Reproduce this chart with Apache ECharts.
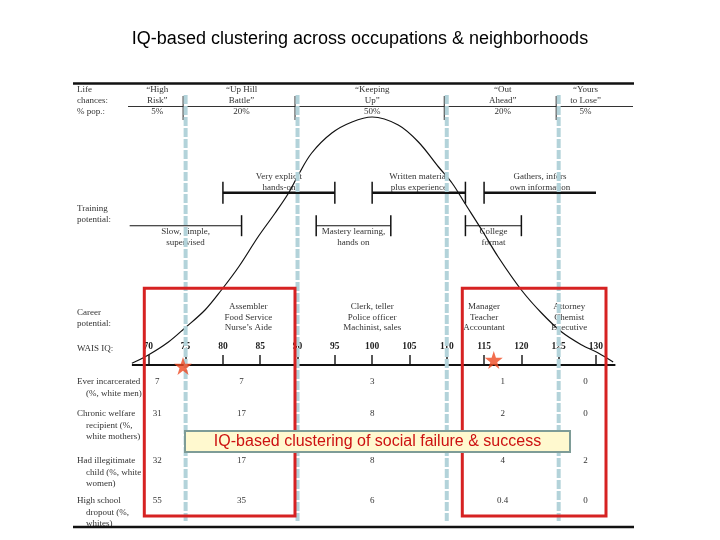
<!DOCTYPE html>
<html><head><meta charset="utf-8">
<script src="https://cdn.jsdelivr.net/npm/echarts@6/dist/echarts.min.js"></script>
<style>html,body{margin:0;padding:0;background:#fff}#c{width:720px;height:540px}</style>
</head><body><div id="c"></div>
<script>
// ---------------- data ----------------
const curveIQ = [67.8, 70, 72.7, 74.9, 77.6, 79.8, 82.1, 84.7, 87.0, 88.8, 90.1, 91.9, 94.6, 97.3, 100.0, 103.5, 106.2, 108.9, 110.7, 112.4, 114.7, 116.9, 120.0, 122.7, 125.4, 128.1, 130.3, 132.3];
const curveH  = [1.7, 10, 23, 37, 55, 75, 98, 128, 152, 172, 190, 212, 232, 243, 248, 240, 223, 198, 182, 162, 135, 108, 75, 52, 33, 20, 12, 3];
const baselineIQ = [67.8, 132.6];
const iqTicks = [70, 75, 80, 85, 90, 95, 100, 105, 110, 115, 120, 125, 130];
const bandBounds = [75, 90, 110, 125];
const lifeChances = ['\u201cHigh\nRisk\u201d', '\u201cUp Hill\nBattle\u201d', '\u201cKeeping\nUp\u201d', '\u201cOut\nAhead\u201d', '\u201cYours\nto Lose\u201d'];
const popShare = ['5%', '20%', '50%', '20%', '5%'];
const columnIQ = [71.2, 82.5, 100, 117.5, 128.6];
const trainingLabels = ['Very explicit\nhands-on', 'Written material\nplus experience', 'Gathers, infers\nown information', 'Slow, simple,\nsupervised', 'Mastery learning,\nhands on', 'College\nformat'];
const trainingFrom = [80, 100, 115, 67.5, 92.5, 112.5];
const trainingTo   = [95, 112.5, 130, 82.5, 102.5, 120];
const trainingRow  = [0, 0, 0, 1, 1, 1];
const careerLabels = ['Assembler\nFood Service\nNurse\u2019s Aide', 'Clerk, teller\nPolice officer\nMachinist, sales', 'Manager\nTeacher\nAccountant', 'Attorney\nChemist\nExecutive'];
const careerIQ = [83.4, 100, 115, 126.4];
const outcomeRows = ['Ever incarcerated\n(%, white men)', 'Chronic welfare\nrecipient (%,\nwhite mothers)', 'Had illegitimate\nchild (%, white\nwomen)', 'High school\ndropout (%,\nwhites)'];
const incarcerated = [7, 7, 3, 1, 0];
const welfare      = [31, 17, 8, 2, 0];
const illegitimate = [32, 17, 8, 4, 2];
const dropout      = [55, 35, 6, 0.4, 0];
const starIQ = [74.65, 116.3];
const starH  = [-1, 5];

// ---------------- layout ----------------
const L = {
  headY: 90, lineH: 11,
  trainY: [192.7, 225.7],
  careerY: 306.7, careerLH: 10.7,
  rowY: [382, 414, 461, 501],
  labelX: 77, indentX: 86,
  blueTop: 95, blueBottom: 521
};
const SERIF = '9px "Liberation Serif"';
const TXT = '#333';

function lines(str, x, y, lh, align, font, fill) {
  return str.split('\n').map((s, k) => ({
    type: 'text', x: x, y: y + k * lh,
    style: { text: s, font: font || SERIF, fill: fill || TXT, textAlign: align || 'center', textVerticalAlign: 'middle', align: align || 'center', verticalAlign: 'middle' }
  }));
}

const outcomeValues = [incarcerated, welfare, illegitimate, dropout];
const tableData = [];
outcomeValues.forEach((row, r) => row.forEach((v, c) => tableData.push([columnIQ[c], r, v])));

// left-side labels (graphic)
const leftTexts = [];
leftTexts.push(...lines('Life\nchances:\n% pop.:', L.labelX, L.headY, L.lineH, 'left'));
leftTexts.push(...lines('Training\npotential:', L.labelX, 209, L.lineH, 'left'));
leftTexts.push(...lines('Career\npotential:', L.labelX, 313, L.lineH, 'left'));
leftTexts.push(...lines('WAIS IQ:', L.labelX, 349, L.lineH, 'left'));
outcomeRows.forEach((s, r) => {
  s.split('\n').forEach((t, k) => {
    leftTexts.push(...lines(t, k === 0 ? L.labelX : L.indentX, L.rowY[r] + k * 11.3, 11, 'left'));
  });
});

const chart = echarts.init(document.getElementById('c'), null, { renderer: 'canvas' });
chart.setOption({
  animation: false,
  backgroundColor: '#fff',
  title: {
    text: 'IQ-based clustering across occupations & neighborhoods',
    left: 'center', top: 25,
    textStyle: { fontFamily: '"Liberation Sans", Arial, sans-serif', fontSize: 18, fontWeight: 'normal', color: '#000' }
  },
  grid: { left: 111.0, width: 522.3, top: 115, height: 250 },
  xAxis: {
    type: 'value', min: 65, max: 135, interval: 5,
    axisLine: { show: false }, splitLine: { show: false },
    axisTick: { show: true, inside: true, length: 10, customValues: iqTicks, lineStyle: { color: '#222', width: 1.5 } },
    axisLabel: { inside: true, margin: 13, customValues: iqTicks, color: '#222', fontFamily: '"Liberation Serif"', fontSize: 9.5, fontWeight: 'bold' }
  },
  yAxis: { type: 'value', min: 0, max: 250, show: false },
  series: [
    { type: 'line', name: 'curve', data: curveIQ.map((x, i) => [x, curveH[i]]), showSymbol: false, smooth: 0.35, clip: false,
      lineStyle: { color: '#111', width: 1.2 }, z: 3 },
    { type: 'line', name: 'baseline', data: baselineIQ.map(x => [x, 0]), showSymbol: false, clip: false,
      lineStyle: { color: '#111', width: 2 }, z: 3 },
    { type: 'custom', name: 'headers', data: columnIQ.map((v, i) => [v, i]), z: 2,
      renderItem: (p, api) => {
        const x = api.coord([api.value(0), 0])[0];
        const i = p.dataIndex;
        return { type: 'group', children: lines(lifeChances[i] + '\n' + popShare[i], x, L.headY, L.lineH) };
      } },
    { type: 'custom', name: 'training', data: trainingFrom.map((f, i) => [f, trainingTo[i], trainingRow[i]]), z: 3,
      renderItem: (p, api) => {
        const a = api.value(0), b = api.value(1), row = api.value(2);
        const x0 = api.coord([a, 0])[0], x1 = api.coord([b, 0])[0];
        const y = L.trainY[row];
        const ch = [{ type: 'line', shape: { x1: x0, y1: y, x2: x1, y2: y }, style: { stroke: '#111', lineWidth: row === 0 ? 2.5 : 1.1 } }];
        const capH = row === 0 ? 11 : 10.5;
        if (a > 70) ch.push({ type: 'line', shape: { x1: x0, y1: y - capH, x2: x0, y2: y + capH }, style: { stroke: '#111', lineWidth: 1.5 } });
        if (b < 130) ch.push({ type: 'line', shape: { x1: x1, y1: y - capH, x2: x1, y2: y + capH }, style: { stroke: '#111', lineWidth: 1.5 } });
        const cx = (x0 + x1) / 2;
        const ty = row === 0 ? y - 16 : y + 6;
        ch.push(...lines(trainingLabels[p.dataIndex], cx, ty, 10.8));
        return { type: 'group', children: ch };
      } },
    { type: 'custom', name: 'career', data: careerIQ.map(v => [v]), z: 2,
      renderItem: (p, api) => {
        const x = api.coord([api.value(0), 0])[0];
        return { type: 'group', children: lines(careerLabels[p.dataIndex], x, L.careerY, L.careerLH) };
      } },
    { type: 'custom', name: 'outcomes', data: tableData, z: 2,
      renderItem: (p, api) => {
        const x = api.coord([api.value(0), 0])[0];
        const y = L.rowY[api.value(1)];
        return { type: 'group', children: lines(String(api.value(2)), x, y, 11) };
      } },
    { type: 'custom', name: 'bands', data: bandBounds.map(v => [v]), z: 5,
      renderItem: (p, api) => {
        const x = api.coord([api.value(0), 0])[0];
        return { type: 'group', children: [
          { type: 'line', shape: { x1: x - 2.5, y1: 96, x2: x - 2.5, y2: 120 }, style: { stroke: '#222', lineWidth: 1 } },
          { type: 'line', shape: { x1: x, y1: L.blueTop, x2: x, y2: L.blueBottom }, style: { stroke: '#b3d3da', lineWidth: 4, lineDash: [9, 2] } }
        ] };
      } },
    { type: 'scatter', name: 'stars', data: starIQ.map((v, i) => [v, starH[i]]), clip: false, z: 30,
      symbol: 'path://M50,0 L61.8,35.3 L98.9,35.3 L68.9,57.3 L80.3,92.7 L50,70.8 L19.7,92.7 L31.1,57.3 L1.1,35.3 L38.2,35.3 Z',
      symbolSize: 18, itemStyle: { color: '#ef4a22' } }
  ],
  graphic: [
    { type: 'line', z: 1, shape: { x1: 73, y1: 83.5, x2: 634, y2: 83.5 }, style: { stroke: '#111', lineWidth: 2.5 } },
    { type: 'line', z: 1, shape: { x1: 128, y1: 106.5, x2: 633, y2: 106.5 }, style: { stroke: '#333', lineWidth: 1 } },
    { type: 'line', z: 1, shape: { x1: 73, y1: 527, x2: 634, y2: 527 }, style: { stroke: '#111', lineWidth: 2.5 } },
    { type: 'group', z: 1, children: leftTexts },
    { type: 'rect', z: 10, shape: { x: 144.3, y: 288.3, width: 150.7, height: 227.7 }, style: { fill: 'none', stroke: '#d62222', lineWidth: 3 } },
    { type: 'rect', z: 10, shape: { x: 462.3, y: 288.3, width: 143.7, height: 227.7 }, style: { fill: 'none', stroke: '#d62222', lineWidth: 3 } },
    { type: 'rect', z: 20, shape: { x: 185, y: 431, width: 385, height: 21 }, style: { fill: '#fff9cf', stroke: '#7e9c97', lineWidth: 2 } },
    { type: 'text', z: 21, x: 377.5, y: 442, style: { text: 'IQ-based clustering of social failure & success', font: '16px "Liberation Sans", Arial, sans-serif', fill: '#cc1111', textAlign: 'center', textVerticalAlign: 'middle', align: 'center', verticalAlign: 'middle' } }
  ]
});
</script></body></html>
